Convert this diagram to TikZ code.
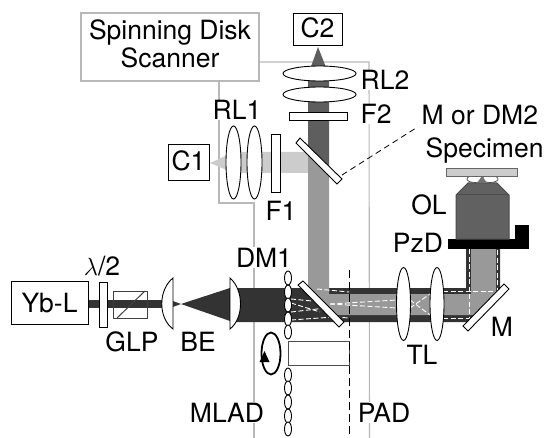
\documentclass[tikz,border=0pt]{standalone}
\usepackage{fontspec}
\setmainfont{TeX Gyre Heros}
\definecolor{beamdark}{gray}{0.2}
\definecolor{beammid}{gray}{0.6}
\definecolor{beamup}{gray}{0.37}
\definecolor{beamlight}{gray}{0.8}
\definecolor{framegray}{gray}{0.72}
\tikzset{
  lbl/.style={font=\fontsize{26.5}{28}\selectfont, inner sep=0.5pt, anchor=base},
  lblw/.style={lbl, fill=white},
  optic/.style={draw=black, fill=white, line width=0.9pt},
  devbox/.style={draw=black, line width=0.9pt, inner sep=0pt},
  frameline/.style={draw=framegray, line width=1.1pt},
  raydash/.style={white, line width=0.9pt, dash pattern=on 5pt off 2.5pt}
}
\begin{document}
\begin{tikzpicture}[x=1pt,y=-1pt]
  \useasboundingbox (0,0) rectangle (545,438);

% FRAME LINES =================================================================
  \node[draw=framegray, line width=1.1pt, minimum width=178, minimum height=68, inner sep=0pt] (scanner) at (170,47) {};
  \node[lbl, align=center] (scannertext) at (170,68) {Spinning Disk\\Scanner};
  \coordinate (frameR) at (369,62);
  \coordinate (frameL) at (219,203);
  \coordinate (frameLb) at (254,203);
  \draw[frameline] (scanner.east |- frameR) to (frameR) to (369.5,438);
  \draw[frameline] (frameL |- scanner.south) to (frameL) to (frameLb) to (254,438);

% BEAMS =======================================================================
  \fill[beamdark] (88,300) rectangle (165,308); % laser
  \fill[beamdark] (170,300) to (181,304) to (230,288) to (230,321) to (181,304) to (170,308) to cycle; % expander
  \fill[beamdark] (235,288) to (466,288) to (466,249) to (500,249) to (500,291) to (470,322) to (235,322) to cycle;
  \fill[beamlight] (210,163) to (234,152) to (310,152) to (310,173) to (234,173) to cycle; % C1 path
  \fill[beamup] (318,47) to (308,75) to (308,172) to (329,172) to (329,75) to cycle; % C2 path
  \fill[beammid] (308,150) to (329,171) to (329,294) to (471,294) to (471,249) to (496,249) to (496,297) to (478,315) to (331,315) to (308,291) to cycle;

% RAYS ========================================================================
  \draw[raydash] (291,299) to (312,301);
  \draw[raydash] (291,303) to (320,312);
  \draw[raydash] (291,312) to (326,308);
  \draw[raydash] (291,320) to (334,317);
  \draw[raydash] (317,289) to (349,292);
  \draw[raydash] (330,304) to (397,300);
  \draw[raydash] (330,304) to (397,308);
  \draw[raydash] (335,317) to (349,318);
  \draw[raydash] (410,308) to (430,294);
  \draw[raydash] (410,300) to (430,315);
  \draw[raydash] (443,291) to (497,291) to (497,249);
  \draw[raydash] (443,318) to (469,318) to (469,249);

% LASER ARM ===================================================================
  \node[devbox, minimum width=77, minimum height=43] (laser) at (49.5,302.5) {};
  \draw[optic] (99,282) rectangle (107,327); % waveplate
  \draw[draw=black!75, line width=1pt] (113,291) rectangle (147,318);
  \draw[draw=black!75, line width=1pt] (117,318) to (145,291);
  \draw[optic] (173,278) .. controls (158,290) and (158,318) .. (173,329) to cycle;
  \draw[optic] (230,278) .. controls (244,290) and (244,318) .. (230,329) to cycle;

% MICROLENS DISK ==============================================================
  \draw[draw=black!70, fill=white, line width=1pt] (288,341) rectangle (349,365);
  \foreach \y in {278,292,305,319,332,375,388,402,416,429} {
    \draw[optic] (288,\y) ellipse [x radius=3.5, y radius=7];
  }
  \draw[line width=1.8pt] (271,353.5) ellipse [x radius=9.5, y radius=21];
  \fill[black] (264.5,351) to (269.5,362) to (259.5,362) to cycle;
  \draw[line width=0.7pt, dash pattern=on 8pt off 4pt] (349,270) to (349,438); % PAD plane

% MIRRORS =====================================================================
  \draw[optic] (298,285) to (303,281) to (344,322) to (339,327) to cycle; % DM1
  \draw[optic] (463,326) to (468,331) to (509,289) to (504,284) to cycle; % M
  \draw[optic] (296,143) to (300,138) to (342,179) to (337,184) to cycle; % DM2

% TUBE AND RELAY LENSES =======================================================
  \draw[optic] (403.5,304) ellipse [x radius=7, y radius=36.5];
  \draw[optic] (437,304) ellipse [x radius=7, y radius=36.5];
  \draw[optic] (233.5,162.5) ellipse [x radius=7.5, y radius=36.5];
  \draw[optic] (254.5,162.5) ellipse [x radius=7.5, y radius=36.5];
  \draw[optic] (271,134) rectangle (280,192); % F1
  \draw[optic] (319.5,73.5) ellipse [x radius=36.5, y radius=7.5];
  \draw[optic] (319.5,94.5) ellipse [x radius=36.5, y radius=7.5];
  \draw[optic] (289,112) rectangle (347,120); % F2

% OBJECTIVE ===================================================================
  \fill[black] (448,239) rectangle (529,249);
  \fill[black] (515,225) rectangle (529,239);
  \draw[draw=black!70, fill=black!62, line width=1pt] (456,195) to (468,183) to (497,183) to (509,195) to (509,239) to (456,239) to cycle;
  \draw[draw=black!70, line width=1pt] (456,195) to (509,195);
  \draw[draw=black!70, fill=white, line width=0.7pt] (475,179) ellipse [x radius=8, y radius=3.5];
  \draw[draw=black!70, fill=white, line width=0.7pt] (490,179) ellipse [x radius=8, y radius=3.5];
  \fill[black!55] (482,176) to (487,183) to (477,183) to cycle;
  \draw[draw=black!60, fill=beamlight, line width=0.8pt] (446,168) rectangle (517,176); % slide

% LABELS ======================================================================
  \node[lbl] (laserlabel) at (49.5,312) {Yb-L};
  \node[devbox, minimum width=41, minimum height=36] (camone) at (188.5,162) {};
  \node[lbl] (camonelabel) at (188.5,171) {C1};
  \node[devbox, minimum width=49, minimum height=32] (camtwo) at (317.5,29) {};
  \node[lbl] (camtwolabel) at (317.5,38) {C2};
  \node[lbl] (waveplate) at (102,275) {$\lambda$/2};
  \node[lbl] (glp) at (132,351) {GLP};
  \node[lbl] (be) at (198,351) {BE};
  \node[lblw] (dmone) at (264,267) {DM1};
  \node[lblw] (mlad) at (227,422) {MLAD};
  \node[lblw] (pad) at (384,422) {PAD};
  \node[lblw] (rlone) at (237,120) {RL1};
  \node[lbl] (fone) at (281,220) {F1};
  \node[lblw, anchor=base west] (rltwo) at (360,90) {RL2};
  \node[lblw, anchor=base west] (ftwo) at (360,124) {F2};
  \node[lbl, anchor=base west] (mdm) at (421,125) {M or DM2};
  \node[lbl, anchor=base west] (specimen) at (425,158) {Specimen};
  \node[lbl] (ol) at (429,214) {OL};
  \node[lbl] (pzd) at (418,252) {PzD};
  \node[lbl] (tl) at (422,364) {TL};
  \node[lbl] (mirror) at (502,336) {M};

  \coordinate (leader) at (342,175);
  \coordinate (leaderend) at (416,128);
  \draw[line width=0.8pt, dash pattern=on 6pt off 4pt] (leader) to (leaderend);

\end{tikzpicture}
\end{document}
